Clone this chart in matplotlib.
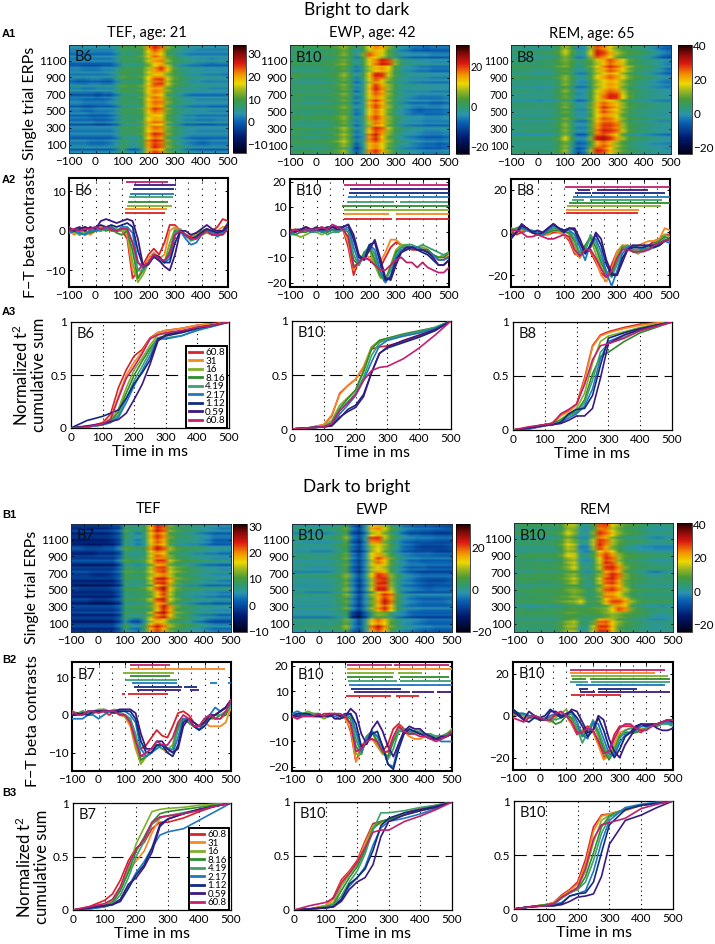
#!/usr/bin/env python3

import matplotlib
matplotlib.use("Agg")
import matplotlib.pyplot as plt
import numpy as np
from matplotlib.colors import LinearSegmentedColormap
from matplotlib.lines import Line2D

plt.rcParams['font.family'] = ['Lato', 'DejaVu Sans']
plt.rcParams['mathtext.default'] = 'regular'

W, H = 715, 944

band_labels = ["60.8", "31", "16", "8.16", "4.19", "2.17", "1.12", "0.59", "60.8"]
band_colors = ['#d8232a', '#f28a20', '#7fb02a', '#2e8b2e', '#3f9f6f', '#1f78c0', '#122a80', '#3b1a80', '#c2206f']

# single trial ERPs, one row per block of trials (top of the image first), columns every 25 ms
erp_a1 = [
    [3, 3, 3, 3, 3, 3, 3, 5, 9, 8, 8, 10, 20, 25, 22, 12, 8, 6, 4, 4, 3, 3, 3, 3, 3],
    [2, 2, 2, 2, 2, 2, 2, 4, 8, 7, 8, 10, 17, 22, 19, 10, 8, 5, 4, 3, 3, 3, 3, 3, 3],
    [1, 1, 1, 1, 1, 1, 1, 3, 7, 7, 7, 8, 14, 19, 20, 12, 8, 6, 5, 4, 3, 3, 2, 3, 3],
    [2, 2, 1, 1, 1, 2, 2, 4, 8, 8, 8, 9, 14, 20, 24, 18, 10, 6, 5, 4, 4, 3, 3, 3, 3],
    [2, 2, 2, 2, 2, 2, 3, 5, 9, 8, 7, 9, 15, 19, 19, 13, 9, 7, 5, 4, 4, 3, 3, 3, 2],
    [2, 1, 1, 2, 2, 1, 1, 4, 8, 8, 8, 9, 17, 24, 25, 16, 11, 9, 7, 5, 5, 4, 4, 4, 4],
    [3, 3, 2, 2, 3, 3, 3, 5, 9, 8, 8, 10, 17, 21, 20, 12, 8, 6, 5, 5, 4, 4, 3, 3, 3],
    [1, 1, 1, 1, 0, 1, 1, 4, 8, 8, 8, 10, 18, 22, 20, 11, 8, 6, 4, 3, 3, 3, 3, 3, 3],
    [2, 2, 1, 1, 1, 1, 2, 4, 8, 7, 7, 9, 18, 22, 21, 12, 8, 6, 5, 4, 3, 3, 3, 3, 3],
    [1, 1, 0, 0, 1, 1, 1, 3, 7, 7, 7, 9, 18, 23, 21, 11, 7, 5, 4, 3, 3, 3, 2, 2, 2],
    [2, 2, 2, 1, 1, 1, 2, 4, 8, 8, 8, 9, 17, 20, 19, 11, 8, 6, 4, 4, 3, 3, 3, 3, 3],
    [1, 1, 1, 1, 0, 0, 1, 3, 7, 7, 7, 9, 18, 21, 20, 11, 7, 5, 3, 3, 2, 2, 2, 3, 3],
    [2, 2, 2, 2, 2, 2, 2, 4, 8, 8, 8, 10, 18, 22, 21, 12, 8, 6, 4, 4, 3, 3, 3, 3, 3],
    [1, 1, 1, 1, 1, 1, 1, 3, 7, 6, 6, 9, 19, 24, 22, 11, 7, 5, 3, 2, 2, 2, 2, 2, 2],
    [2, 2, 2, 1, 1, 1, 2, 4, 8, 6, 5, 9, 21, 25, 23, 12, 8, 5, 3, 2, 1, 1, 2, 2, 2],
    [2, 2, 2, 2, 2, 2, 2, 4, 8, 3, 2, 6, 18, 24, 21, 11, 8, 6, 4, 3, 2, 2, 2, 2, 2],
]
erp_a2 = [
    [1, 1, 1, 1, 1, 2, 2, 4, 7, 3, -2, 3, 11, 16, 14, 6, 0, -4, -5, -7, -7, -8, -7, -7, -7],
    [1, 1, 1, 0, 1, 1, 1, 3, 6, 2, -3, 5, 18, 14, 10, 4, 0, -3, -4, -5, -5, -5, -6, -6, -6],
    [1, 0, 0, 0, 0, 1, 1, 3, 5, 1, -4, 1, 10, 16, 21, 19, 6, 0, -3, -3, -4, -4, -5, -5, -5],
    [0, 0, 0, 0, 0, 1, 1, 3, 5, 0, -5, 0, 9, 14, 16, 12, 4, -1, -3, -4, -5, -5, -6, -6, -6],
    [1, 1, 0, 0, 0, 0, 1, 2, 6, 1, -5, 1, 11, 20, 19, 8, 2, -2, -3, -4, -4, -4, -5, -5, -5],
    [1, 0, 0, 0, 0, 1, 1, 3, 6, 2, -5, -1, 11, 19, 13, 7, 2, -1, -2, -3, -3, -4, -4, -4, -4],
    [0, 0, 0, 0, 0, 0, 0, 2, 5, 1, -6, -2, 13, 21, 16, 7, 1, -2, -3, -3, -3, -3, -4, -4, -4],
    [1, 1, 0, 0, 0, 0, 1, 2, 5, 1, -6, -1, 11, 17, 14, 6, 1, -2, -4, -5, -6, -6, -6, -6, -5],
    [1, 1, 0, 0, 0, 1, 1, 2, 5, 1, -5, -1, 15, 20, 15, 7, 1, -2, -4, -5, -5, -5, -6, -6, -5],
    [0, 0, 0, 0, 0, 0, 0, 2, 5, 1, -6, -2, 12, 18, 13, 6, 0, -3, -5, -7, -8, -7, -7, -7, -6],
    [1, 1, 0, 1, 1, 1, 1, 3, 6, 1, -6, -1, 14, 19, 14, 6, 1, -2, -4, -5, -5, -6, -6, -6, -5],
    [1, 0, 0, 0, 0, 0, 1, 3, 6, 1, -5, -1, 10, 18, 15, 7, 2, -2, -3, -4, -4, -5, -5, -5, -5],
    [1, 1, 1, 0, 0, 0, 1, 3, 7, 2, -6, -2, 13, 20, 17, 8, 2, -1, -3, -3, -4, -5, -5, -5, -4],
    [1, 1, 0, 0, 0, 1, 1, 4, 8, 3, -6, -3, 17, 22, 14, 6, 1, -2, -4, -5, -6, -7, -7, -7, -6],
    [1, 1, 1, 1, 1, 1, 2, 4, 8, 2, -8, -2, 14, 17, 12, 6, 1, -2, -3, -5, -6, -7, -7, -8, -7],
    [1, 1, 1, 1, 0, 1, 2, 4, 7, -1, -9, -2, 16, 20, 14, 6, 1, -2, -3, -4, -5, -6, -6, -6, -5],
]
erp_a3 = [
    [3, 3, 3, 3, 3, 3, 4, 8, 15, 8, 0, 1, 14, 28, 25, 18, 12, 8, 6, 5, 4, 2, 0, -3, -5],
    [3, 3, 3, 3, 3, 4, 4, 7, 14, 7, 0, 1, 15, 29, 26, 20, 13, 9, 6, 5, 4, 2, 0, -3, -5],
    [4, 4, 4, 4, 4, 5, 5, 8, 11, 8, 3, 5, 9, 15, 20, 26, 22, 16, 9, 6, 4, 3, 2, 0, -2],
    [5, 5, 5, 4, 4, 4, 5, 8, 10, 6, 1, 3, 9, 16, 22, 27, 24, 19, 12, 7, 5, 4, 2, 0, -3],
    [4, 4, 4, 3, 3, 3, 4, 7, 11, 6, 0, 0, 7, 16, 20, 24, 21, 15, 9, 6, 4, 3, 1, -1, -3],
    [3, 3, 3, 3, 3, 3, 3, 6, 12, 6, 0, -1, 6, 14, 18, 22, 20, 13, 8, 5, 3, 2, 0, -2, -3],
    [3, 3, 3, 2, 2, 2, 3, 6, 11, 5, -1, -1, 6, 15, 20, 24, 22, 13, 7, 5, 3, 2, 1, 0, -1],
    [2, 2, 2, 2, 2, 2, 3, 6, 10, 5, -1, 0, 7, 16, 24, 29, 28, 17, 9, 5, 3, 2, 1, 1, 0],
    [3, 3, 3, 3, 2, 3, 3, 6, 10, 5, -1, 0, 9, 20, 25, 22, 19, 12, 7, 5, 4, 3, 2, 1, 1],
    [3, 3, 3, 3, 3, 3, 3, 6, 10, 5, 0, 0, 9, 19, 27, 23, 20, 12, 7, 4, 3, 3, 2, 2, 1],
    [2, 2, 2, 2, 2, 2, 3, 5, 9, 5, 0, 0, 8, 18, 24, 22, 17, 10, 5, 4, 3, 2, 1, 1, 0],
    [3, 3, 3, 3, 3, 3, 4, 7, 12, 5, -1, -1, 9, 22, 27, 27, 24, 13, 7, 5, 4, 3, 2, 1, 1],
    [2, 2, 3, 3, 3, 3, 3, 6, 11, 4, -2, -2, 8, 23, 28, 27, 24, 14, 7, 4, 3, 2, 1, 0, 0],
    [3, 3, 3, 3, 3, 3, 4, 7, 15, 6, -3, -3, 10, 29, 31, 27, 21, 12, 6, 4, 3, 2, 1, 0, -1],
    [3, 3, 3, 3, 3, 3, 4, 7, 12, 4, -4, -3, 8, 22, 26, 22, 14, 9, 5, 3, 2, 1, 0, 0, -1],
    [3, 3, 3, 3, 3, 3, 3, 7, 12, 0, -7, -4, 12, 28, 26, 19, 12, 8, 5, 3, 2, 1, 1, 0, -1],
]
erp_b1 = [
    [-2, -2, -2, -2, -2, -2, -1, 0, 8, 8, 7, 9, 18, 24, 22, 12, 9, 8, 8, 7, 6, 6, 5, 4, 4],
    [-2, -2, -2, -2, -2, -2, -1, 1, 9, 7, 5, 8, 18, 23, 20, 11, 9, 8, 7, 6, 5, 4, 3, 3, 3],
    [-3, -3, -3, -3, -3, -3, -2, 0, 8, 6, 4, 7, 17, 22, 19, 11, 8, 7, 7, 6, 5, 4, 2, 2, 2],
    [-1, -1, -2, -2, -2, -1, -1, 2, 9, 8, 6, 8, 18, 23, 20, 12, 9, 8, 7, 7, 6, 5, 4, 4, 4],
    [-2, -2, -2, -2, -1, -1, -1, 1, 8, 7, 7, 8, 16, 21, 19, 12, 9, 8, 7, 6, 6, 5, 5, 4, 4],
    [-1, -1, -1, -1, -1, -1, -1, 2, 9, 8, 7, 9, 15, 21, 21, 13, 10, 8, 8, 7, 6, 6, 5, 5, 5],
    [-2, -2, -2, -2, -2, -2, -2, 1, 8, 8, 7, 8, 14, 21, 22, 14, 11, 10, 8, 7, 6, 5, 5, 4, 4],
    [-1, -1, -1, -2, -2, -2, -1, 1, 9, 9, 8, 9, 14, 19, 21, 15, 11, 9, 8, 7, 6, 6, 5, 5, 5],
    [-2, -2, -2, -2, -2, -2, -2, 1, 9, 8, 8, 9, 15, 23, 24, 19, 12, 10, 9, 8, 7, 6, 6, 5, 5],
    [-2, -3, -3, -3, -3, -3, -2, 0, 8, 8, 8, 9, 13, 20, 24, 16, 10, 8, 7, 7, 6, 5, 5, 5, 5],
    [-2, -2, -2, -2, -2, -2, -2, 1, 8, 8, 9, 9, 12, 18, 23, 15, 10, 8, 7, 6, 6, 5, 5, 4, 4],
    [-2, -2, -2, -3, -3, -3, -2, 0, 8, 8, 8, 9, 13, 21, 23, 14, 10, 8, 7, 6, 5, 5, 4, 4, 4],
    [-1, -1, -1, -1, -1, -1, -1, 1, 8, 8, 9, 8, 11, 18, 24, 19, 11, 9, 8, 7, 6, 6, 5, 5, 5],
    [-2, -2, -2, -2, -2, -2, -2, 0, 8, 7, 7, 8, 13, 21, 24, 18, 11, 9, 8, 6, 5, 5, 4, 3, 3],
    [-2, -2, -2, -2, -2, -2, -2, 1, 7, 3, 2, 7, 16, 20, 18, 12, 10, 9, 8, 6, 5, 3, 2, 2, 2],
    [-2, -2, -2, -2, -2, -2, -2, 1, 8, 4, 3, 8, 19, 23, 19, 12, 9, 8, 7, 6, 5, 4, 3, 3, 3],
]
erp_b2 = [
    [1, 1, 1, 0, 0, 1, 1, 3, 6, -4, -8, -1, 15, 17, 11, 5, 1, -3, -4, -5, -5, -5, -6, -6, -7],
    [0, 0, 0, 0, 0, 0, 1, 3, 6, -5, -8, -2, 12, 15, 10, 5, 1, -3, -5, -5, -6, -6, -7, -7, -7],
    [1, 1, 0, 0, 0, 0, 1, 2, 7, -5, -9, -1, 19, 20, 9, 4, 0, -3, -4, -5, -5, -5, -6, -6, -6],
    [1, 0, 0, 0, 0, 0, 1, 3, 5, -4, -8, -2, 10, 13, 9, 4, 0, -4, -5, -7, -8, -8, -8, -8, -7],
    [1, 1, 1, 0, 0, 0, 1, 3, 6, -4, -8, -2, 12, 16, 9, 4, 0, -3, -4, -5, -5, -5, -6, -6, -6],
    [0, 0, 0, 0, 0, 0, 1, 2, 6, -4, -8, -2, 11, 19, 15, 6, 1, -2, -4, -4, -5, -5, -5, -5, -5],
    [1, 1, 0, 0, 0, 0, 1, 3, 6, -4, -8, -1, 11, 14, 11, 5, 1, -2, -4, -4, -4, -5, -5, -5, -5],
    [0, 0, 0, 0, 0, 0, 1, 3, 7, -3, -8, -1, 12, 20, 18, 7, 2, -2, -4, -5, -6, -6, -6, -6, -6],
    [1, 0, 0, 0, 0, 1, 1, 3, 7, -3, -8, -2, 10, 21, 22, 8, 2, -2, -3, -5, -6, -7, -7, -7, -6],
    [0, 0, 0, 0, 0, 0, 1, 3, 8, -2, -8, -2, 11, 22, 22, 10, 2, -2, -3, -4, -5, -6, -5, -5, -5],
    [1, 1, 0, 0, 0, 0, 1, 3, 7, -2, -8, -2, 8, 15, 20, 17, 4, -1, -3, -4, -4, -4, -4, -4, -4],
    [0, 0, 0, 0, 0, 0, 1, 3, 6, -3, -8, -2, 7, 16, 23, 18, 4, -1, -3, -4, -5, -5, -5, -5, -4],
    [0, 0, 0, 0, 0, 0, 1, 2, 6, -3, -8, -2, 8, 16, 21, 14, 3, -1, -3, -3, -4, -4, -4, -4, -4],
    [-1, -1, -1, -1, -1, -1, 0, 1, 3, -9, -13, -6, 3, 8, 7, 2, -1, -3, -5, -6, -6, -6, -6, -6, -6],
    [1, 1, 1, 1, 1, 1, 1, 2, 7, -2, -7, 0, 14, 18, 14, 6, 2, -1, -2, -3, -4, -5, -5, -5, -5],
    [1, 1, 1, 1, 1, 1, 2, 3, 8, -3, -7, 0, 17, 22, 16, 6, 2, -1, -2, -3, -4, -4, -5, -5, -5],
]
erp_b3 = [
    [5, 5, 5, 5, 5, 5, 5, 7, 14, 14, 3, 1, 8, 26, 27, 16, 12, 8, 7, 6, 4, 3, 2, 2, 3],
    [5, 5, 5, 5, 4, 5, 5, 8, 15, 11, 1, 0, 10, 27, 24, 18, 11, 7, 6, 5, 3, 2, 1, 2, 2],
    [4, 4, 4, 4, 4, 4, 5, 8, 14, 10, 2, 2, 14, 28, 25, 14, 9, 6, 5, 5, 4, 2, 1, 2, 3],
    [3, 3, 3, 3, 3, 3, 4, 8, 15, 13, -2, -2, 13, 28, 22, 12, 7, 3, 2, 0, -1, -1, -2, -2, -2],
    [4, 4, 5, 5, 5, 5, 5, 8, 15, 14, 2, 0, 7, 21, 26, 21, 11, 7, 6, 5, 4, 4, 3, 3, 3],
    [5, 5, 5, 5, 4, 4, 5, 7, 13, 15, 2, 0, 5, 18, 29, 26, 14, 8, 6, 5, 4, 3, 2, 2, 2],
    [4, 4, 4, 5, 5, 5, 5, 7, 11, 15, 5, 0, 5, 14, 27, 28, 22, 10, 6, 5, 4, 3, 3, 3, 3],
    [5, 5, 5, 6, 6, 6, 6, 7, 10, 12, 6, 2, 5, 12, 24, 29, 25, 11, 7, 5, 3, 1, 0, 2, 3],
    [5, 5, 5, 5, 4, 5, 5, 7, 10, 14, 7, 2, 5, 15, 26, 28, 22, 10, 6, 5, 4, 3, 3, 3, 3],
    [4, 4, 4, 5, 5, 5, 5, 6, 9, 10, 8, 3, 5, 12, 25, 27, 22, 13, 7, 5, 4, 4, 3, 3, 3],
    [5, 5, 6, 6, 6, 6, 7, 8, 9, 12, 10, 5, 5, 11, 24, 24, 19, 12, 7, 5, 4, 4, 4, 4, 4],
    [4, 4, 4, 5, 5, 5, 6, 7, 9, 10, 14, 6, 4, 8, 19, 25, 25, 20, 11, 6, 5, 4, 4, 4, 4],
    [4, 4, 3, 3, 4, 4, 4, 5, 7, 8, 6, 7, 8, 9, 11, 18, 26, 23, 10, 6, 4, 3, 3, 2, 3],
    [5, 5, 5, 5, 5, 5, 5, 6, 8, 8, 6, 6, 6, 7, 10, 13, 11, 9, 7, 6, 5, 3, 1, 0, 2],
    [4, 4, 4, 4, 4, 4, 4, 7, 11, 13, 5, 3, 9, 24, 25, 17, 11, 7, 5, 4, 2, 1, 1, 1, 2],
    [4, 4, 4, 4, 4, 4, 5, 8, 13, 13, 2, 3, 15, 28, 28, 20, 9, 6, 5, 4, 3, 2, 1, 2, 3],
]

# thin horizontal streaks seen across each image, 3 per block above, top first
streaks_a1 = [0, 1, -1, 0, -2, 1, 0, 2, -1, -3, 1, 0, 1, -1, 2, 0, -2, 0, 2, -1, 1, 0, -3, 1, -1, 1, 0, -2, 2, 0, 1, -2, 0, -1, 2, -3, 1, 0, -1, 2, 0, -2, 1, -1, 0, 2, -3, 1]
streaks_a2 = [1, 0, -2, 0, 1, -3, 1, 0, 2, -1, 0, -2, 1, 2, -1, 0, -3, 1, 0, 1, -2, 2, 0, -1, 1, -3, 0, 2, -1, 0, -2, 1, 1, -1, 0, -3, 2, 0, -1, 1, -2, 0, 2, -1, 0, -3, 1, 0]
streaks_a3 = [0, -2, 1, 2, 0, -3, 1, 0, -1, 2, -2, 0, -3, 1, 2, 0, -1, 1, -3, 0, 2, -1, 1, 0, -4, 1, 0, 2, -2, 1, -1, 0, 3, -3, 0, 1, -1, 2, 0, -4, 1, 2, 0, -2, 1, -1, 2, 0]
streaks_b1 = [1, 0, -1, 2, -2, 0, 1, -1, 0, -3, 1, 2, 0, -2, 1, -1, 2, 0, -3, 1, 0, 2, -1, 0, 1, -2, 0, -3, 2, 1, -1, 0, -2, 2, 0, -3, 1, 0, -1, 2, -2, 1, 0, -3, 1, 2, -1, 0]
streaks_b2 = [0, -1, 1, 0, -3, 1, 2, 0, -2, 1, -1, 0, -3, 1, 0, 2, -1, 0, 1, -2, 0, -3, 1, 2, 0, -1, 1, -2, 0, 1, -3, 2, 0, -1, 1, 0, -2, 2, -1, 0, 1, -3, 1, 0, -1, 2, 0, -2]
streaks_b3 = [1, 0, -2, 0, 2, -1, -4, 1, 0, 2, -1, 0, -3, 1, 2, 0, -2, 1, -1, 2, 0, -4, 1, 0, 2, -1, 1, -3, 0, 2, 0, -2, 1, -1, 3, 0, -4, 1, 0, 2, -1, 0, -3, 2, 0, 1, -2, 1]

# F-T beta contrasts, one row per band, samples every 20 ms from -100 to 500
contrast_a1 = [
    [1, 0, -1, 1, 0, 0, 1, 1, 0, 0, 0, -2, -12, -10, -8.5, -6, -4.5, -6, -3, 1.5, 1.5, 0, -1, -1.5, -.5, 0, .5, 0, 1, 3, 2.5],
    [0, -1, 0, 0, -1, 0, 1, 1, 1, 0, 0, -1, -10, -12, -9, -7, -5.5, -7, -6, 0, 1, 0, -1, -1, -1, 0, 0, -1, 0, 1, 1],
    [0, -.5, 0, -1, -.5, 0, 0, .5, 1, .5, 0, 0, -8, -13, -11, -8, -6, -7, -8, -3, .5, 0, -1.5, -2, -1, -1, -.5, -1, -.5, 0, 1],
    [-.5, 0, .5, 0, -.5, 0, .5, 0, .5, -.5, -1, 0, -5, -12, -10, -8, -6.5, -7.5, -8, -5, 0, 0, -1, -2, -1.5, 0, 0, -.5, -1, -.5, .5],
    [0, 0, -1, -.5, 0, .5, 0, .5, 1, 0, .5, .5, -3, -10, -10, -8, -6.5, -7.5, -8, -6, -.5, .5, -1, -2.5, -2, -1, 0, -1, -1, 0, .5],
    [-.5, 0, -.5, -1, 0, 0, .5, .5, 1, 0, 1, 1, -.5, -8, -9.5, -8, -6.5, -7, -8, -7, -1, 0, -2, -3.5, -3, -1, .5, -.5, -1.5, -.5, .5],
    [.5, 0, .5, 1, .5, 1, 1.5, 1, 1.5, 1, 1.5, 2, 1, -5, -9, -8, -6, -6.5, -8, -8, -3, 0, -1, -2, -1.5, -.5, .5, 0, -.5, 0, 1],
    [0, .5, 1, 0, 1, .5, 2.5, 3, 2.5, 2, 2.5, 3, 2.5, -2, -9, -8.5, -6.5, -7.5, -9, -10, -6, 0, 0, -1, -.5, .5, 1.5, .5, 0, 0, 2],
    [0, .5, 0, .5, .5, 1, .5, 1, .5, 0, .5, .5, -3, -8, -9, -8, -6, -7, -7.5, -6, -1, 0, -1, -2, -2, -1, 0, -1, -1, -1, .5],
]
contrast_a2 = [
    [0, 1, 0, 2, 1, 1, 2, 0, 1, 1, 1, -6, -17, -11, -10, -11, -13, -14, -10, -6, -4, -5, -6, -7, -7, -7, -8, -9, -11, -11, -9],
    [1, 1, 1, 2, 0, 1, 1, 1, 2, 1, 1, -4, -15, -11, -9, -10, -12, -12, -8, -3, -3, -5, -6, -6, -7, -6, -7, -9, -10, -10, -9],
    [-1, -1, -2, -1, 0, 0, -1, 0, 1, 0, 1, -2, -13, -13, -8, -7, -13, -18, -19, -13, -7, -5, -5, -6, -6, -6, -7, -9, -10, -9, -8],
    [0, -1, 0, 0, 1, 1, 0, 0, 1, 0, 1, 0, -11, -13, -8, -6, -11, -17, -19, -14, -8, -6, -6, -6, -6, -7, -7, -9, -10, -10, -8],
    [0, 1, 0, 1, 0, 0, 1, -1, 0, 0, 1, 1, -9, -13, -9, -5, -9, -16, -19, -15, -9, -6, -5, -5, -6, -5, -6, -7, -8, -9, -8],
    [-1, 0, 1, 1, 0, 1, 0, 1, 1, 1, 1, 2, -6, -12, -10, -5, -7, -15, -20, -17, -10, -7, -6, -6, -6, -7, -8, -9, -11, -11, -10],
    [0, 1, 1, 2, 1, 1, 1, 2, 2, 2, 2, 3, -3, -10, -11, -5, -4, -12, -19, -18, -11, -8, -7, -6, -7, -8, -9, -11, -13, -13, -11],
    [1, 0, 1, 2, 1, 2, 1, 1, 2, 1, 2, 3, -1, -9, -11, -7, -3, -10, -18, -19, -13, -8, -6, -6, -7, -7, -8, -10, -13, -13, -11],
    [0, 1, 0, 1, 1, 1, 2, 1, 3, 2, 1, -2, -14, -12, -10, -11, -13, -15, -15, -13, -11, -10, -12, -12, -14, -12, -14, -15, -16, -16, -14],
]
contrast_a3 = [
    [0, -1, 0, 1, 0, -1, -1, -1, 0, 0, -1, -4, -10, -11, -7, -9, -14, -19, -21, -15, -9, -7, -7, -8, -8, -7, -6, -4, -3, -1, -1],
    [1, 0, 1, 1, 0, 0, -1, -1, 1, 0, -1, -3, -9, -12, -8, -8, -13, -20, -23, -17, -9, -6, -6, -7, -6, -5, -4, -4, -3, 2, 1],
    [2, 1, 2, 1, 0, -1, -1, 0, 2, 1, 1, -1, -6, -11, -7, -3, -10, -16, -20, -19, -11, -6, -7, -9, -10, -8, -7, -6, -4, -1, -2],
    [1, 2, 3, 2, 0, 0, -1, 0, 1, 1, 0, 0, -4, -10, -6, -2, -7, -14, -19, -20, -14, -7, -7, -9, -9, -8, -7, -5, -4, -2, -3],
    [0, 2, 2, 1, 0, -1, 0, 1, 2, 2, 1, 1, -3, -10, -9, -1, -5, -12, -18, -21, -15, -8, -6, -8, -8, -7, -7, -6, -5, -3, -4],
    [-2, 0, 2, 1, 1, 0, -1, 1, 3, 2, 1, 1, -1, -7, -13, -5, -3, -9, -19, -25, -18, -10, -7, -6, -7, -8, -8, -7, -6, -4, -5],
    [-2, 0, 3, 2, 0, -1, 0, 2, 4, 2, 1, 2, 1, -5, -10, -6, -1, -6, -15, -20, -20, -12, -8, -7, -7, -7, -6, -7, -6, -4, -3],
    [-3, 0, 4, 2, 0, 1, 0, 2, 4, 2, 0, 2, 2, -3, -9, -7, 0, -3, -13, -19, -20, -14, -8, -6, -6, -6, -6, -6, -5, -4, -3],
    [1, 1, 0, -2, -2, -1, -2, -3, -3, -2, -1, -2, -8, -11, -8, -8, -12, -17, -21, -18, -12, -8, -8, -9, -9, -9, -8, -6, -5, -4, -3],
]
contrast_b1 = [
    [1, 0, .5, 0, 1, 1, 1, 0, 1, .5, 0, -2, -7, -9, -8, -6, -4, -5.5, -6, -3, .5, 1, 0, -2, -3, -2, -1, 0, 1, 2, 4],
    [.5, 0, .5, 0, .5, 1, 1, 1, 1, 0, -.5, -3, -9, -13, -11, -10, -8, -9, -10, -9, -3, -1, -2, -3, -3, -2, -3, -3, -3, -2, 2],
    [1, .5, 1, .5, 1, 1.5, 1.5, 1, 1.5, 1, -.5, -2, -8, -13, -11, -10, -8, -8, -9, -8, -2, -1, -2, -3, -3, -1, -1, -1, -1, 0, 3],
    [1, 0, 1, 0, .5, 1, 1, 1, 1, .5, 0, -1, -6, -12, -11, -10, -8, -8, -9, -9, -3, -1, -2, -3, -3, -1, 0, -1, 0, 0, 3],
    [.5, 0, 1, .5, 1, 1, 1.5, 1, 1, .5, 0, -1, -5, -11, -11, -10, -8, -9, -9, -9, -4, -1, -2, -3, -4, -2, -1, 0, 0, 1, 2],
    [-1, -1, -1, 0, 0, -1, 0, 1, 1, 1, 1, 0, -2, -9, -11, -10, -9, -8, -9, -10, -6, -1, -1, -3, -4, -2, 0, 2, 1, 2, 3],
    [0, 0, .5, 0, 1, 1, 1, 1, .5, 1, 1, 1, -1, -7, -10, -10, -8, -8, -10, -11, -8, -2, -1, -3, -4, -3, -1, 0, 1, 2, 4],
    [0, .5, 0, 1, 1, 1, 1, 1, 1, 1.5, 1.5, 1.5, .5, -5, -9, -9, -7, -7, -9, -10, -9, -3, -1, -2, -3, -2, 0, 0, 1, 2, 4],
    [1, 0, 0, 1, 1, .5, 1, 1, 1, 0, 0, -2, -7, -11, -10, -9, -7, -8, -8, -6, -2, 0, -1, -3, -3, -1, 0, -1, -1, 1, 4],
]
contrast_b2 = [
    [0, 0, 0, 1, 0, 0, 1, 1, 1, 0, 0, -6, -18, -12, -9, -9, -11, -14, -11, -5, -3, -5, -6, -6, -7, -7, -8, -8, -8, -8, -5],
    [0, -1, 0, 0, 1, 0, 0, 0, 1, 0, -1, -5, -18, -14, -8, -9, -12, -15, -14, -9, -4, -6, -8, -9, -9, -8, -9, -9, -9, -7, -6],
    [0, 0, 1, 2, 1, 0, -1, 0, 1, 0, 0, -3, -15, -15, -8, -6, -11, -15, -16, -9, -5, -6, -7, -7, -6, -7, -8, -9, -8, -7, -5],
    [0, 0, 1, 1, 1, 1, 0, 0, 1, 0, 0, -1, -12, -15, -8, -6, -10, -14, -16, -10, -6, -6, -7, -6, -6, -7, -8, -8, -8, -7, -6],
    [1, 1, 1, 1, 1, 1, 0, 0, 1, 0, 0, 0, -9, -15, -8, -6, -8, -13, -17, -13, -6, -5, -6, -6, -6, -7, -7, -8, -8, -7, -7],
    [1, 2, 1, 1, 0, 0, 0, 1, 0, -1, 0, 1, -6, -14, -9, -6, -8, -12, -19, -20, -11, -6, -6, -6, -7, -7, -8, -9, -10, -10, -10],
    [0, 1, 1, 1, 0, 0, 0, 0, 1, 0, 1, 1, -3, -12, -11, -7, -6, -12, -19, -21, -13, -7, -5, -6, -7, -8, -9, -9, -9, -8, -7],
    [0, 0, 0, 0, 0, 0, 0, 1, -1, -1, 0, 3, 1, -7, -11, -5, -2, -6, -12, -16, -11, -6, -4, -5, -5, -7, -8, -9, -8, -8, -7],
    [0, -1, 0, 0, 0, 1, 0, 1, 1, 1, 0, -3, -14, -13, -10, -9, -10, -14, -14, -8, -4, -6, -7, -7, -8, -8, -9, -10, -9, -8, -6],
]
contrast_b3 = [
    [0, 1, 0, -1, 0, -1, -2, -1, 0, 1, 0, -4, -9, -7, -5, -7, -13, -20, -17, -9, -5, -5, -5, -7, -8, -6, -5, -4, -3, -2, -2],
    [1, 0, -1, -1, 0, -1, -2, -1, 1, 0, 0, -4, -8, -7, -6, -8, -14, -21, -19, -13, -8, -7, -6, -6, -6, -6, -5, -4, -3, -3, -3],
    [1, 1, 0, -1, -1, -2, -2, -3, -1, 1, 3, -2, -7, -9, -7, -4, -10, -18, -20, -15, -9, -8, -8, -8, -7, -6, -5, -4, -4, -3, -3],
    [1, 1, 1, 0, -1, -2, -2, -2, -4, -3, 0, -1, -5, -10, -7, -3, -8, -16, -21, -17, -10, -8, -8, -8, -7, -6, -5, -5, -4, -4, -4],
    [2, 1, 1, -1, -1, -2, -1, -1, -2, -1, 0, 1, -6, -13, -8, -2, -7, -14, -20, -18, -11, -7, -6, -7, -7, -6, -5, -4, -4, -4, -5],
    [3, 1, 1, 0, 0, -1, -2, 0, 1, 0, 1, 2, -3, -9, -11, -3, -4, -11, -18, -19, -13, -9, -8, -7, -5, -5, -5, -4, -3, -3, -4],
    [3, 1, -2, -3, -1, -1, 0, 3, 1, -1, 1, 2, -1, -5, -10, -7, -1, -7, -15, -20, -16, -10, -8, -5, -4, -5, -4, -4, -3, -2, -3],
    [2, 0, -2, 2, 0, -2, -2, 2, 2, 0, 0, 3, 2, -3, -8, -7, 0, -2, -11, -17, -20, -14, -10, -6, -4, -4, -4, -6, -7, -7, -6],
    [-1, -2, -3, -1, 0, -1, -2, -2, 1, 2, 0, -3, -8, -8, -6, -7, -12, -18, -17, -11, -6, -4, -4, -6, -7, -7, -5, -4, -3, -2, -2],
]

# significance bars: per band the y level and the (start, end) runs in ms, top bar first
bars_a1 = [
    (12.4, [(115, 272)], 8), (11.6, [(145, 302)], 7), (10.7, [(140, 298)], 6), (9.4, [(132, 295)], 5), (8.5, [(127, 293)], 4),
    (7.4, [(123, 274)], 3), (6.4, [(120, 287)], 2), (5.5, [(113, 268)], 1), (4.5, [(111, 261)], 0),
]
bars_a2 = [
    (18.8, [(105, 498)], 8), (17, [(126, 500)], 7), (15.5, [(124, 500)], 6), (13.8, [(117, 500)], 5), (12, [(114, 294), (315, 498)], 4),
    (10.4, [(97, 500)], 3), (8.7, [(104, 500)], 2), (7, [(105, 274), (299, 500)], 1), (5.3, [(105, 286), (299, 500)], 0),
]
bars_a3 = [
    (21.2, [(104, 500)], 8), (19.8, [(154, 198), (223, 418)], 7), (18.3, [(141, 202), (207, 481)], 6), (16.6, [(135, 500)], 5),
    (15.2, [(129, 175), (198, 469)], 4), (13.7, [(120, 500)], 3), (12.2, [(113, 465)], 2), (10.6, [(106, 383)], 1), (9.2, [(106, 378)], 0),
]
bars_b1 = [
    (13.2, [(120, 271)], 8), (12.2, [(118, 476)], 1), (11.3, [(92, 284)], 2), (10.3, [(118, 271)], 3), (9.4, [(101, 296)], 4),
    (8.5, [(125, 296), (419, 447), (487, 500)], 5), (7.5, [(133, 315), (321, 372)], 6), (6.6, [(145, 313), (347, 378)], 7), (5.6, [(89, 101), (111, 262)], 0),
]
bars_b2 = [
    (20.4, [(107, 276), (284, 488)], 8), (18.7, [(105, 500)], 1), (17.1, [(105, 282), (299, 387)], 2), (15.5, [(108, 280), (305, 488)], 3),
    (14, [(111, 294), (306, 500)], 4), (12.4, [(115, 500)], 5), (10.9, [(121, 310)], 6), (9.5, [(134, 342), (349, 431), (444, 500)], 7), (8, [(102, 270), (290, 375)], 0),
]
bars_b3 = [
    (21.9, [(113, 470)], 8), (20.3, [(113, 433)], 1), (18.9, [(119, 483)], 2), (17.4, [(122, 172), (188, 490)], 3), (16, [(113, 182), (192, 490)], 4),
    (14.6, [(135, 470)], 5), (12.8, [(148, 182), (220, 364)], 6), (11.2, [(150, 207), (220, 490)], 7), (9.8, [(117, 170), (173, 306)], 0),
]

# normalized cumulative t^2, sampled at cum_times
cum_times = [0, 50, 100, 125, 150, 175, 200, 225, 250, 275, 300, 350, 400, 450, 500]
cum_a1 = [
    [0, .01, .05, .13, .38, .55, .68, .74, .85, .90, .92, .94, .97, .985, 1],
    [0, .01, .04, .09, .30, .50, .62, .72, .84, .90, .92, .94, .97, .98, 1],
    [0, .01, .03, .07, .18, .38, .55, .66, .78, .88, .89, .91, .95, .97, 1],
    [0, .01, .03, .06, .15, .33, .50, .63, .75, .85, .87, .90, .94, .97, 1],
    [0, .01, .03, .06, .12, .28, .45, .58, .72, .85, .85, .87, .93, .96, 1],
    [0, .01, .03, .05, .10, .24, .40, .54, .68, .84, .84, .87, .92, .96, 1],
    [0, .07, .11, .14, .17, .28, .42, .52, .64, .84, .87, .90, .94, .97, 1],
    [0, .02, .04, .06, .08, .14, .27, .41, .60, .82, .88, .91, .95, .97, 1],
    [0, .01, .04, .08, .28, .47, .58, .70, .84, .88, .90, .92, .95, .97, 1],
]
cum_a2 = [
    [0, .01, .04, .12, .33, .40, .46, .57, .74, .76, .77, .81, .86, .92, 1],
    [0, .01, .04, .13, .32, .40, .46, .58, .76, .81, .83, .86, .89, .93, 1],
    [0, .01, .03, .08, .22, .29, .36, .55, .76, .82, .84, .87, .90, .94, 1],
    [0, .01, .02, .06, .19, .28, .36, .53, .74, .82, .84, .88, .91, .94, 1],
    [0, .01, .02, .05, .17, .25, .33, .48, .68, .80, .83, .87, .90, .94, 1],
    [0, .01, .02, .04, .14, .22, .31, .45, .62, .77, .82, .86, .89, .93, 1],
    [0, .01, .02, .03, .10, .18, .22, .32, .52, .70, .75, .80, .85, .91, 1],
    [0, .01, .02, .03, .11, .16, .20, .30, .52, .70, .76, .82, .87, .92, 1],
    [0, .01, .02, .05, .17, .24, .32, .45, .54, .57, .58, .65, .75, .87, 1],
]
cum_a3 = [
    [0, .01, .04, .07, .14, .18, .24, .48, .78, .88, .91, .95, .98, .99, 1],
    [0, .02, .05, .06, .13, .17, .23, .46, .77, .87, .90, .94, .97, .99, 1],
    [0, .02, .05, .05, .10, .15, .20, .34, .62, .82, .87, .91, .95, .98, 1],
    [0, .02, .05, .06, .09, .14, .17, .28, .52, .68, .72, .82, .90, .95, 1],
    [0, .02, .05, .05, .08, .13, .16, .25, .46, .72, .80, .86, .92, .96, 1],
    [0, .01, .04, .05, .07, .11, .15, .22, .38, .66, .82, .88, .93, .97, 1],
    [0, .02, .05, .05, .07, .15, .19, .20, .32, .60, .85, .90, .94, .97, 1],
    [0, .02, .04, .05, .06, .09, .13, .13, .20, .48, .80, .88, .93, .97, 1],
    [0, .03, .05, .06, .15, .19, .24, .42, .65, .78, .80, .85, .92, .96, 1],
]
cum_b1 = [
    [0, .03, .09, .15, .28, .46, .58, .63, .76, .82, .82, .86, .92, .97, 1],
    [0, .02, .05, .09, .20, .36, .46, .55, .72, .86, .88, .90, .94, .97, 1],
    [0, .01, .04, .08, .20, .38, .62, .77, .92, .94, .95, .96, .98, .99, 1],
    [0, .01, .04, .07, .18, .35, .55, .68, .82, .90, .92, .94, .96, .98, 1],
    [0, .01, .03, .06, .14, .30, .50, .64, .80, .86, .88, .91, .94, .97, 1],
    [0, .01, .03, .05, .10, .22, .35, .45, .58, .70, .73, .76, .84, .92, 1],
    [0, .02, .04, .05, .08, .20, .33, .42, .58, .80, .85, .90, .94, .97, 1],
    [0, .02, .04, .05, .10, .24, .30, .40, .54, .78, .85, .90, .94, .97, 1],
    [0, .03, .06, .10, .22, .42, .57, .66, .82, .87, .88, .90, .93, .97, 1],
]
cum_b2 = [
    [0, .01, .04, .12, .28, .36, .46, .64, .80, .82, .84, .90, .94, .97, 1],
    [0, .01, .04, .10, .26, .35, .44, .62, .78, .80, .83, .89, .93, .96, 1],
    [0, .01, .03, .07, .22, .33, .42, .58, .78, .81, .83, .89, .92, .96, 1],
    [0, .01, .03, .05, .18, .30, .40, .55, .75, .82, .84, .88, .92, .96, 1],
    [0, .01, .02, .04, .13, .26, .36, .52, .74, .90, .90, .92, .95, .97, 1],
    [0, .01, .02, .03, .10, .22, .30, .40, .60, .76, .82, .85, .89, .94, 1],
    [0, .01, .02, .03, .10, .24, .30, .38, .55, .78, .85, .90, .93, .96, 1],
    [0, .01, .02, .03, .08, .19, .26, .30, .42, .68, .82, .88, .92, .95, 1],
    [0, .04, .07, .11, .25, .34, .44, .58, .72, .74, .74, .82, .87, .93, 1],
]
cum_b3 = [
    [0, .02, .04, .06, .13, .18, .25, .46, .76, .87, .88, .92, .96, .98, 1],
    [0, .02, .04, .06, .12, .17, .23, .42, .72, .86, .88, .91, .96, .98, 1],
    [0, .02, .04, .05, .11, .15, .20, .35, .62, .82, .87, .92, .96, .98, 1],
    [0, .02, .04, .05, .10, .15, .18, .30, .52, .76, .86, .93, .96, .98, 1],
    [0, .02, .03, .04, .10, .16, .18, .25, .45, .70, .85, .93, .96, .98, 1],
    [0, .02, .03, .04, .06, .12, .14, .17, .35, .62, .82, .94, .97, .99, 1],
    [0, .02, .03, .03, .05, .12, .14, .15, .25, .52, .78, .92, .96, .98, 1],
    [0, .02, .03, .03, .04, .07, .11, .12, .14, .30, .60, .82, .87, .94, 1],
    [0, .02, .03, .05, .11, .15, .20, .38, .65, .78, .80, .84, .93, .97, 1],
]

ERP_CMAP = LinearSegmentedColormap.from_list("erp", [
    (0.00, '#000018'), (0.15, '#001a70'), (0.29, '#0a62b4'), (0.36, '#2a93b0'), (0.42, '#2f9a78'),
    (0.50, '#459a3a'), (0.58, '#9cb622'), (0.645, '#ecd800'), (0.73, '#f39200'), (0.83, '#dc1a10'),
    (0.93, '#7a0808'), (1.00, '#1c0000'),
])

TICK_SIZE = 8.5

fig = plt.figure(figsize=(W / 100, H / 100), dpi=100)


def axes_px(left, top, right, bottom):
    return fig.add_axes([left / W, 1 - bottom / H, (right - left) / W, (bottom - top) / H])


def text_px(x, y, s, **kw):
    kw.setdefault('ha', 'center')
    kw.setdefault('va', 'center')
    fig.text(x / W, 1 - y / H, s, **kw)


def panel_tag(ax, s):
    ax.text(0.035, 0.885, s, transform=ax.transAxes, fontsize=10.5, va='center', ha='left', color='#101010', zorder=6)


def draw_erp(box, cbox, matrix, streaks, vrange, cticks, tag, ytick_size=TICK_SIZE, cbar_size=TICK_SIZE):
    ax = axes_px(*box)
    img = np.repeat(np.array(matrix, dtype=float), 3, axis=0) + np.array(streaks, dtype=float)[:, None]
    im = ax.imshow(img, extent=[-100, 500, 0, 1285], origin='upper', aspect='auto',
                   cmap=ERP_CMAP, vmin=vrange[0], vmax=vrange[1], interpolation='bilinear')
    ax.set_xticks(np.arange(-100, 501, 100))
    ax.set_xticks(np.arange(-50, 501, 100), minor=True)
    ax.set_yticks(np.arange(100, 1101, 200))
    ax.tick_params(axis='both', which='both', direction='in', length=1.5, width=0.6, top=True, right=True,
                   labelsize=TICK_SIZE, pad=2.5)
    ax.tick_params(axis='y', labelsize=ytick_size, pad=2)
    for sp in ax.spines.values():
        sp.set_linewidth(0.7)
        sp.set_color('#203040')
    panel_tag(ax, tag)
    cax = axes_px(*cbox)
    cb = fig.colorbar(im, cax=cax, ticks=cticks)
    cb.ax.tick_params(length=0, labelsize=cbar_size, pad=1)
    cb.outline.set_linewidth(0.5)
    return ax


def draw_contrast(box, curves, bars, ylim, yticks, tag):
    ax = axes_px(*box)
    times = np.arange(-100, 501, 20)
    for x in np.arange(-50, 500, 50):
        ax.axvline(x, color='k', lw=0.8, dashes=(1, 4.5), zorder=1)
    for row, col in zip(curves, band_colors):
        ax.plot(times, row, color=col, lw=1.3, zorder=3, solid_joinstyle='round')
    for level, runs, idx in bars:
        for start, end in runs:
            ax.plot([start, end], [level, level], color=band_colors[idx], lw=1.3, solid_capstyle='butt', zorder=3)
    ax.set_xlim(-100, 500)
    ax.set_ylim(*ylim)
    ax.set_xticks(np.arange(-100, 501, 100))
    ax.set_yticks(yticks)
    ax.tick_params(axis='both', direction='in', length=2, width=0.7, top=True, right=True,
                   labelsize=TICK_SIZE, pad=2.5)
    for sp in ax.spines.values():
        sp.set_linewidth(1.5)
    panel_tag(ax, tag)
    return ax


def draw_cum(box, curves, tag):
    ax = axes_px(*box)
    for x in [100, 200, 300, 400]:
        ax.axvline(x, color='k', lw=0.8, dashes=(1, 3), zorder=1)
    ax.axhline(0.5, color='k', lw=0.8, dashes=(11, 6), zorder=1)
    for row, col in zip(curves, band_colors):
        ax.plot(cum_times, row, color=col, lw=1.2, zorder=3, solid_joinstyle='round')
    ax.set_xlim(0, 500)
    ax.set_ylim(0, 1)
    ax.set_xticks(np.arange(0, 501, 100))
    ax.set_yticks([0, 0.5, 1])
    ax.set_yticklabels(["0", "0.5", "1"])
    ax.tick_params(axis='both', length=0, labelsize=TICK_SIZE, pad=3)
    ax.set_xlabel("Time in ms", fontsize=11.5, labelpad=1)
    for sp in ax.spines.values():
        sp.set_linewidth(0.9)
    panel_tag(ax, tag)
    return ax


def band_legend(ax, fontsize, spacing, anchor):
    handles = [Line2D([], [], color=c, lw=2) for c in band_colors]
    leg = ax.legend(handles, band_labels, loc='lower right', bbox_to_anchor=anchor, fontsize=fontsize,
                    handlelength=1.3, handletextpad=0.35, labelspacing=spacing, borderpad=0.25, borderaxespad=0,
                    fancybox=False, framealpha=1, edgecolor='k')
    leg.get_frame().set_linewidth(1.4)
    leg.set_zorder(5)


# top block
draw_erp((69, 45, 228, 153), (233, 45, 246, 153), erp_a1, streaks_a1, (-14, 34), [-10, 0, 10, 20, 30], "B6")
draw_erp((290, 45, 449, 154), (456, 45, 469, 154), erp_a2, streaks_a2, (-24, 31), [-20, 0, 20], "B10", cbar_size=7.6)
draw_erp((511, 45, 671, 154), (678, 45, 692, 154), erp_a3, streaks_a3, (-24, 40.5), [-20, 0, 20, 40], "B8", ytick_size=7.6)

draw_contrast((69, 178, 228, 287), contrast_a1, bars_a1, (-14.2, 13.4), [-10, 0, 10], "B6")
draw_contrast((290, 179, 449, 287), contrast_a2, bars_a2, (-21.7, 21), [-20, -10, 0, 10, 20], "B10")
draw_contrast((511, 179, 670, 287), contrast_a3, bars_a3, (-25.5, 25), [-20, 0, 20], "B8")

ax = draw_cum((71, 322, 229, 428), cum_a1, "B6")
band_legend(ax, 7.2, -0.05, (0.99, 0.004))
draw_cum((292, 321, 451, 429), cum_a2, "B10")
draw_cum((513, 322, 672, 430), cum_a3, "B8")

# bottom block
draw_erp((71, 524, 231, 632), (233, 524, 247, 632), erp_b1, streaks_b1, (-10.2, 30.8), [-10, 0, 10, 20, 30], "B7")
draw_erp((292, 524, 452, 632), (456, 524, 470, 632), erp_b2, streaks_b2, (-20, 31), [-20, 0, 20], "B10")
draw_erp((514, 523, 673, 632), (677, 523, 692, 632), erp_b3, streaks_b3, (-24.6, 41), [-20, 0, 20, 40], "B10")

draw_contrast((72, 662, 231, 771), contrast_b1, bars_b1, (-14.9, 14.1), [-10, 0, 10], "B7")
draw_contrast((292, 662, 452, 771), contrast_b2, bars_b2, (-21.7, 21.5), [-20, -10, 0, 10, 20], "B10")
draw_contrast((513, 662, 673, 770), contrast_b3, bars_b3, (-25.9, 25.6), [-20, 0, 20], "B10")

ax = draw_cum((73, 803, 231, 910), cum_b1, "B7")
band_legend(ax, 7, -0.05, (0.99, 0.004))
draw_cum((294, 802, 452, 910), cum_b2, "B10")
draw_cum((514, 801, 673, 909), cum_b3, "B10")

# headers and side labels
text_px(357, 10, "Bright to dark", fontsize=12.5)
text_px(357, 487, "Dark to bright", fontsize=12.5)
for x, y, s in [(147, 33, "TEF, age: 21"), (372, 33, "EWP, age: 42"), (592, 34, "REM, age: 65"),
                (149, 509, "TEF"), (372, 510, "EWP"), (595, 510, "REM")]:
    text_px(x, y, s, fontsize=10.5)
for y, s in [(34, "A1"), (180, "A2"), (312, "A3"), (515, "B1"), (660, "B2"), (793, "B3")]:
    text_px(2, y, s, ha='left', fontsize=8, fontweight='bold', family='Liberation Sans')

text_px(30, 103, "Single trial ERPs", rotation=90, fontsize=11.5)
text_px(31, 232, "F\u2212T beta contrasts", rotation=90, fontsize=11.5)
text_px(29, 375, "Normalized t$^{2}$\ncumulative sum", rotation=90, fontsize=12, linespacing=1.0)
text_px(32, 587, "Single trial ERPs", rotation=90, fontsize=11.5)
text_px(33, 721, "F\u2212T beta contrasts", rotation=90, fontsize=11.5)
text_px(32, 867, "Normalized t$^{2}$\ncumulative sum", rotation=90, fontsize=12, linespacing=1.0)

fig.savefig("out.png", dpi=100)
